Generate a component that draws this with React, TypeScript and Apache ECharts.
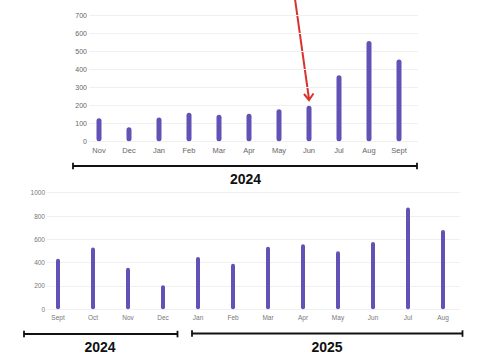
import React, { useEffect, useRef } from "react";
import * as echarts from "echarts";

const topMonths = ["Nov", "Dec", "Jan", "Feb", "Mar", "Apr", "May", "Jun", "Jul", "Aug", "Sept"];
const topValues = [128, 78, 132, 158, 147, 153, 178, 197, 367, 557, 454];
const topMax = 700;
const topInterval = 100;

const bottomMonths = ["Sept", "Oct", "Nov", "Dec", "Jan", "Feb", "Mar", "Apr", "May", "Jun", "Jul", "Aug"];
const bottomValues = [434, 531, 357, 206, 448, 391, 537, 557, 497, 577, 874, 680];
const bottomMax = 1000;
const bottomInterval = 200;

const yearLabels = ["2024", "2024", "2025"];

const BAR = "#6252b6";
const FONT = "'Liberation Sans', Arial, sans-serif";

export default function App() {
  const ref = useRef<HTMLDivElement>(null);
  useEffect(() => {
    if (!ref.current) return;
    const chart = echarts.init(ref.current, null, { renderer: "svg" });
    const black = "#111";
    const red = "#d8332e";
    const line = (x1: number, y1: number, x2: number, y2: number, color: string, w: number) => ({
      type: "line",
      shape: { x1, y1, x2, y2 },
      style: { stroke: color, lineWidth: w },
    });
    const plain = (v: number) => String(v);
    chart.setOption({
      animation: false,
      textStyle: { fontFamily: FONT },
      grid: [
        { left: 84, top: 15.3, width: 330, height: 126 },
        { left: 89, top: 15.3, width: 329, height: 126 },
        { left: 40.5, top: 192.7, width: 420, height: 116.6 },
        { left: 46.7, top: 192.7, width: 413.3, height: 116.6 },
      ],
      xAxis: [
        {
          type: "category", gridIndex: 0, data: topMonths,
          axisLine: { show: false }, axisTick: { show: false },
          axisLabel: { color: "#666", fontSize: 7.5, margin: 5, fontFamily: FONT },
        },
        { type: "value", gridIndex: 1, show: false, min: 0, max: 1 },
        {
          type: "category", gridIndex: 2, data: bottomMonths,
          axisLine: { show: false }, axisTick: { show: false },
          axisLabel: { color: "#777", fontSize: 6.5, margin: 4.5, fontFamily: FONT },
        },
        { type: "value", gridIndex: 3, show: false, min: 0, max: 1 },
      ],
      yAxis: [
        { type: "value", gridIndex: 0, min: 0, max: topMax, interval: topInterval, show: false, splitLine: { show: false } },
        {
          type: "value", gridIndex: 1, min: 0, max: topMax, interval: topInterval,
          axisLine: { show: false }, axisTick: { show: false },
          axisLabel: { color: "#666", fontSize: 7, margin: 2, fontFamily: FONT, formatter: plain },
          splitLine: { lineStyle: { color: "#f0f0f0", width: 1 } },
        },
        { type: "value", gridIndex: 2, min: 0, max: bottomMax, interval: bottomInterval, show: false, splitLine: { show: false } },
        {
          type: "value", gridIndex: 3, min: 0, max: bottomMax, interval: bottomInterval,
          axisLine: { show: false }, axisTick: { show: false },
          axisLabel: { color: "#777", fontSize: 6.5, margin: 1.7, fontFamily: FONT, formatter: plain },
          splitLine: { lineStyle: { color: "#f0f0f0", width: 1 } },
        },
      ],
      series: [
        {
          type: "bar", xAxisIndex: 0, yAxisIndex: 0, data: topValues, barWidth: 5,
          itemStyle: { color: BAR, borderRadius: 2.5 },
        },
        { type: "scatter", xAxisIndex: 1, yAxisIndex: 1, data: [] },
        {
          type: "bar", xAxisIndex: 2, yAxisIndex: 2, data: bottomValues, barWidth: 4,
          itemStyle: { color: BAR, borderRadius: 2 },
        },
        { type: "scatter", xAxisIndex: 3, yAxisIndex: 3, data: [] },
      ],
      graphic: [
        { type: "polyline", shape: { points: [[295, -1], [309, 99]] }, style: { stroke: red, lineWidth: 2, fill: null } },
        { type: "polyline", shape: { points: [[304, 94], [309, 100], [313.5, 93.5]] }, style: { stroke: red, lineWidth: 2, fill: null } },
        line(73, 166, 417, 166, black, 1.8),
        line(73, 162.8, 73, 169.3, black, 1.8),
        line(417, 162.8, 417, 169.3, black, 1.8),
        {
          type: "text", x: 245.5, y: 178.5,
          style: { text: yearLabels[0], fontSize: 14, fontWeight: "bold", fill: black, align: "center", verticalAlign: "middle", fontFamily: FONT },
        },
        line(24, 334, 177.5, 334, black, 1.8),
        line(24, 330.8, 24, 337.3, black, 1.8),
        line(177.5, 330.8, 177.5, 337.3, black, 1.8),
        line(192, 333.5, 462.5, 333.5, black, 1.8),
        line(192, 330.3, 192, 336.8, black, 1.8),
        line(462.5, 330.3, 462.5, 336.8, black, 1.8),
        {
          type: "text", x: 100, y: 347,
          style: { text: yearLabels[1], fontSize: 14, fontWeight: "bold", fill: black, align: "center", verticalAlign: "middle", fontFamily: FONT },
        },
        {
          type: "text", x: 327, y: 347,
          style: { text: yearLabels[2], fontSize: 14, fontWeight: "bold", fill: black, align: "center", verticalAlign: "middle", fontFamily: FONT },
        },
      ],
    });
    return () => chart.dispose();
  }, []);
  return (
    <div
      ref={ref}
      style={{ position: "absolute", left: 0, top: 0, width: 478, height: 361, background: "#fff" }}
    />
  );
}
